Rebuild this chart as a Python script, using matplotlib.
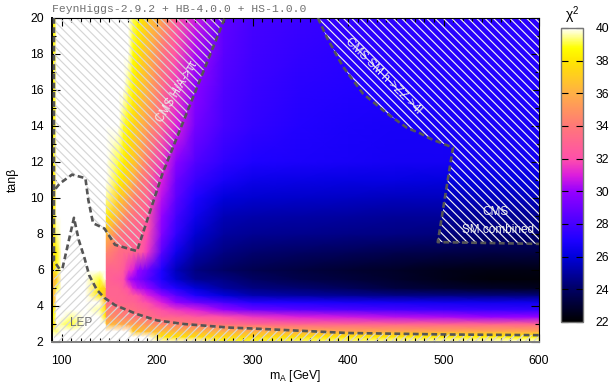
import matplotlib
matplotlib.use("Agg")
import matplotlib.pyplot as plt
from matplotlib.colors import LinearSegmentedColormap, Normalize
from matplotlib.cm import ScalarMappable
from matplotlib.ticker import MultipleLocator

plt.rcParams['font.family'] = ['Liberation Sans', 'DejaVu Sans']
plt.rcParams['hatch.linewidth'] = 0.85

# chi2, W = outside of the colour range (white)
W = 45
mA = [90, 92, 95, 100, 110, 125, 140, 146, 147, 160, 165, 170, 175, 180, 185, 190, 205, 220, 240, 270, 300, 350, 400, 450, 500, 550, 600]
tanb = [2, 2.3, 2.6, 3, 3.4, 3.8, 4.2, 4.6, 5, 5.5, 6, 7, 8, 9, 10, 11, 12, 14, 16, 18, 20]
chi2 = [
    [W, W, W, W, W, W, W, W, W, W, W, W, W, W, W, W, W, W, W, 39, 39, 39.3, 39.5, 39.7, 39.8, 39.9, 40],
    [39.5, W, W, W, W, W, W, W, W, W, W, W, W, W, W, W, 38, 37.8, 37.7, 37.5, 37.5, 37.8, 38, 38, 38.2, 38.3, 38.5],
    [39, 39.5, 39.3, W, W, W, W, W, W, W, W, W, 37, 36.8, 36.7, 36.5, 36.5, 36.3, 36.2, 36, 36, 35.8, 35.7, 35.7, 35.7, 35.7, 35.7],
    [38, 38, 40, 39.5, 39, W, W, W, 36.5, 36, 35.8, 35.7, 35.5, 35.3, 35.2, 35, 34.5, 34.2, 34, 33.5, 33.2, 33, 33, 33, 33, 33, 33],
    [38, 39, W, W, 39.5, W, 40, 38, 35, 34.5, 34.3, 34.2, 34, 33.8, 33.7, 33.5, 33, 33, 32.5, 32, 31.5, 31, 30.8, 30.5, 30.3, 30, 30],
    [38, 38.5, W, W, W, 40, 39.5, 38, 34.5, 34, 33.8, 33.6, 33.5, 33.3, 33.2, 33, 32, 31.5, 31, 30, 29, 28.5, 28.2, 28, 27.8, 27.6, 27.5],
    [36, 37, W, W, W, W, 40, 37, 33.5, 33, 33, 33, 33, 32.7, 32.3, 32, 31, 30, 29, 28, 27.2, 27, 26.8, 26.7, 26.6, 26.5, 26.5],
    [36, 36.5, W, W, W, W, 38, 36.5, 33, 33, 33, 32.7, 32.5, 32, 31.5, 31, 30, 28.5, 27, 26, 25.3, 25, 24.8, 24.6, 24.5, 24.4, 24.4],
    [36, 36.5, 39, W, W, W, 38, 37, 33, 33, 32.5, 32, 31, 30.5, 30.3, 30, 28, 27, 26, 25, 24.5, 24.2, 23.8, 23.3, 23, 22.8, 22.6],
    [36, 36, 37, W, W, W, 39, W, 33, 32.5, 32, 30.5, 30, 29.5, 29, 28.5, 27, 25.8, 24.8, 24.5, 24, 23.5, 23.2, 22.9, 22.5, 22.2, 22.2],
    [36, 38, 39, 41, W, W, W, W, 33, 33, 32.5, 31.5, 31, 30, 29.5, 29, 27, 25.5, 24.5, 24, 23.6, 23.3, 23, 22.8, 22.5, 22.4, 22.4],
    [36, 38, 38.5, 40.5, W, W, W, W, 34.5, 33.5, 33.3, 33.2, 33, 32.8, 32.3, 31.5, 28.5, 26.5, 25.2, 24.5, 24.2, 24, 23.8, 23.6, 23.5, 23.4, 23.4],
    [37, 38, 39.5, W, W, W, W, W, 36.5, 34, 33.5, 33.3, 33, 33, 32.7, 32, 29.5, 27.5, 25.9, 25, 24.8, 24.7, 24.6, 24.5, 24.4, 24.3, 24.3],
    [38, 38.5, W, W, W, W, W, W, 38.3, 36, 35, 34.3, 33.8, 33.3, 33, 32.5, 30, 28, 26.5, 25.4, 25.2, 25.1, 25, 24.9, 24.9, 24.8, 24.8],
    [37, 38, W, W, W, W, W, W, 39.5, 37, 36.5, 35.5, 34.5, 34, 33.5, 33, 30.5, 28.6, 27, 26, 25.8, 25.7, 25.6, 25.5, 25.5, 25.5, 25.5],
    [37, 38, W, W, W, W, W, W, W, 38.5, 37.8, 37, 36, 35, 34, 33.5, 31, 29, 27.7, 26.8, 26.4, 26.3, 26.2, 26.2, 26.1, 26.1, 26.1],
    [38.5, 38.5, W, W, W, W, W, W, W, 39, 38.3, 37.5, 37, 36, 35, 34, 31.5, 29.7, 28.3, 27.4, 27, 26.9, 26.8, 26.7, 26.7, 26.6, 26.6],
    [38.5, 38.5, W, W, W, W, W, W, W, 41, 39, 38.3, 37.5, 36.7, 36, 35.3, 33, 31, 29.2, 28, 27.5, 27.1, 26.9, 26.8, 26.8, 26.8, 26.8],
    [38.5, 38.5, W, W, W, W, W, W, W, W, W, 39.2, 38.5, 37.5, 36.8, 36, 33.5, 31.5, 29.7, 28.2, 27.7, 27.3, 27.1, 27, 27, 27, 27],
    [38.5, 38.5, W, W, W, W, W, W, W, W, W, W, 38.8, 38, 37.2, 36.5, 34, 32, 30.3, 28.5, 27.9, 27.5, 27.3, 27.2, 27.2, 27.2, 27.2],
    [38.5, 38.5, W, W, W, W, W, W, W, W, W, W, 39.2, 38.5, 37.8, 37, 35.5, 32.5, 30.8, 28.7, 28, 27.7, 27.5, 27.4, 27.3, 27.3, 27.3],
]

# colour bar stops (chi2, rgb)
cbar_vals = [22, 24, 26, 27, 28, 30, 31, 32, 34, 36, 38, 38.8, 40]
cbar_cols = ['#000000', '#000064', '#0000dc', '#1e00ff', '#4600ff', '#9600ff', '#dc1edc',
             '#ff50aa', '#ff7878', '#ffaf46', '#ffe600', '#ffff00', '#ffffff']

# excluded regions, outlines as (mA, tanb)
tautau_x = [92, 92, 98, 111, 125, 128, 133, 145, 156, 179, 206, 271]
tautau_y = [20, 10.4, 10.8, 11.3, 11.1, 9.9, 8.6, 8.3, 7.4, 7.05, 11.4, 20]
lep_x = [92, 92, 98, 101, 113, 118, 124, 129, 137, 145, 156, 179, 200, 228, 276, 300, 400, 500, 600]
lep_y = [10.4, 6.5, 6.05, 6.1, 8.9, 7.67, 6.67, 5.7, 4.9, 4.45, 4.05, 3.55, 3.2, 3.0, 2.8, 2.75, 2.5, 2.42, 2.38]
zz_x = [368.5, 378, 394.7, 415.6, 440.8, 461.7, 475.3, 485.8, 509.9, 494, 600]
zz_y = [20, 18.9, 17.3, 15.8, 14.7, 13.9, 13.6, 13.3, 12.8, 7.55, 7.45]

cmap = LinearSegmentedColormap.from_list(
    'chi2', [((v - 22) / 18, c) for v, c in zip(cbar_vals, cbar_cols)], N=512)
cmap.set_over('white')
norm = Normalize(22, 40)

W_PX, H_PX = 612, 386
fig = plt.figure(figsize=(W_PX / 100, H_PX / 100), dpi=100)
ax = fig.add_axes([52 / W_PX, 1 - 342 / H_PX, 487 / W_PX, 324 / H_PX])
ax.pcolormesh(mA, tanb, chi2, cmap=cmap, norm=norm, shading='gouraud', rasterized=True)

# hatched regions
ax.fill(tautau_x, tautau_y, facecolor='none', edgecolor='#d6d6d6', hatch='\\\\\\\\', lw=0, zorder=2)
ax.fill(zz_x + [600], zz_y + [20], facecolor='none', edgecolor='#f2f2f2', hatch='\\\\\\\\', lw=0, zorder=2)
ax.fill(lep_x[1:] + [600, 92], lep_y[1:] + [2, 2], facecolor='none', edgecolor='#d6d6d6', hatch='////', lw=0, zorder=2)

dash = dict(color='#555555', lw=1.9, ls=(0, (2.2, 1.3)), zorder=3)
ax.plot(tautau_x, tautau_y, **dash)
ax.plot(lep_x, lep_y, **dash)
ax.plot(zz_x, zz_y, **dash)

txt = dict(color='#eeeeee', fontsize=8.5, ha='center', va='center', zorder=4)
ax.text(221, 15.9, 'CMS H/A->\u03c4\u03c4', rotation=59, **txt)
ax.text(437, 16.8, 'CMS SM h->ZZ->4l', rotation=-45, **txt)
ax.text(554, 9.2, 'CMS', **txt)
ax.text(557, 8.2, 'SM combined', **txt)
ax.text(121, 3.05, 'LEP', color='#707070', fontsize=8.5, ha='center', va='center', zorder=4)

ax.set_xlim(90, 600)
ax.set_ylim(2, 20)
ax.set_xticks([100, 200, 300, 400, 500, 600])
ax.set_yticks(range(2, 21, 2))
ax.xaxis.set_minor_locator(MultipleLocator(10))
ax.yaxis.set_minor_locator(MultipleLocator(1))
ax.tick_params(which='major', direction='in', top=True, right=True, length=6, width=0.8, labelsize=8.8, pad=9)
ax.tick_params(which='minor', direction='in', top=True, right=True, length=3, width=0.8)
ax.tick_params(axis='y', which='major', pad=6)
ax.set_xlabel('m$_{\\mathregular{A}}$ [GeV]', fontsize=8.8, labelpad=1)
ax.set_ylabel('tan\u03b2', fontsize=8.8, labelpad=8)
ax.spines['bottom'].set_color('#808080')
ax.spines['bottom'].set_linewidth(1.4)
ax.spines['left'].set_linewidth(1.4)

fig.text(52 / W_PX, 1 - 9 / H_PX, 'FeynHiggs-2.9.2 + HB-4.0.0 + HS-1.0.0', family='Liberation Mono',
         fontsize=8.2, color='#707070', ha='left', va='center')

cax = fig.add_axes([561 / W_PX, 1 - 322 / H_PX, 22 / W_PX, 294 / H_PX])
cb = fig.colorbar(ScalarMappable(norm=norm, cmap=cmap), cax=cax)
cb.set_ticks(range(22, 41, 2))
cb.ax.tick_params(direction='in', left=True, right=True, length=5, width=0.8, labelsize=8.8, pad=9)
cb.outline.set_edgecolor('#777777')
cb.outline.set_linewidth(1.0)
fig.text(572 / W_PX, 1 - 15 / H_PX, '\u03c7$^{\\mathregular{2}}$', fontsize=10, ha='center', va='center')

fig.savefig('out.png', dpi=100)
